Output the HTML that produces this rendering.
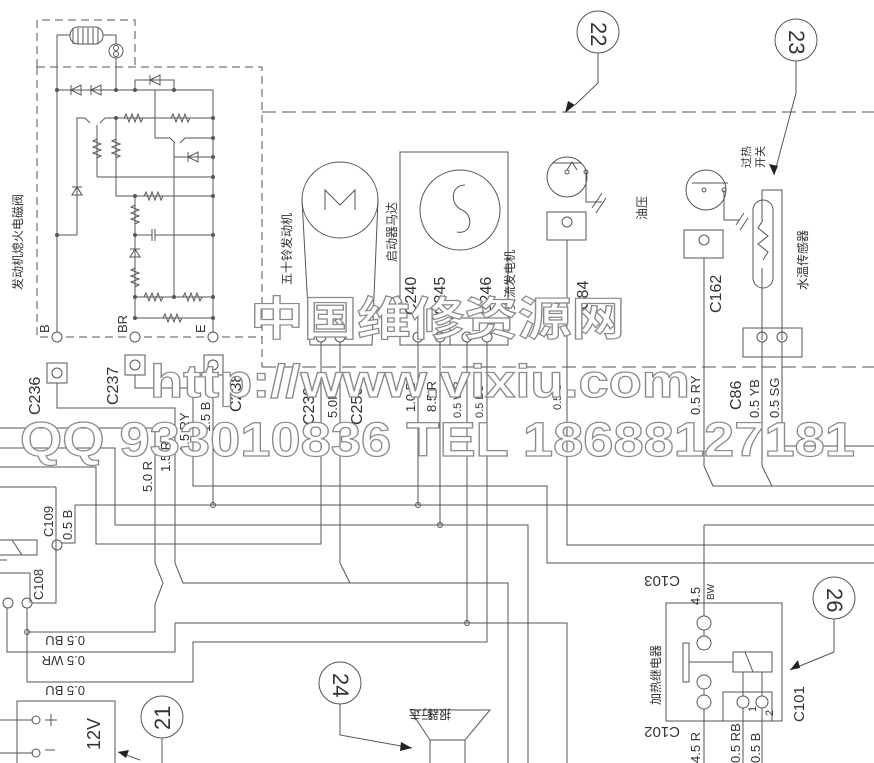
<!DOCTYPE html>
<html><head><meta charset="utf-8"><style>
html,body{margin:0;padding:0;background:#fff;}
svg{display:block;}
text{font-family:"Liberation Sans","Noto Sans CJK SC",sans-serif;fill:#333;}
</style></head><body>
<svg width="874" height="763" viewBox="0 0 874 763" xmlns="http://www.w3.org/2000/svg">
<g fill="none" stroke="#555" stroke-width="1">
<path d="M37 67 V20 H135 V67" stroke-dasharray="8 5"/>
<path d="M37 67 H262 V367 M37 67 V337 H262" stroke-dasharray="8 5"/>
<path d="M262 112 H874" stroke-dasharray="14 6"/>
<path d="M262 367 H874" stroke-dasharray="14 6"/>
<path d="M57 35 V337 M57 35 H70 M103 35 H116 V44 M116 58 V90"/>
<rect x="70" y="27" width="33" height="17" rx="8"/>
<path d="M73 28 v16 M78 28 v16 M83 28 v16 M88 28 v16 M93 28 v16 M98 28 v16"/>
<circle cx="116" cy="51" r="7"/>
<circle cx="116" cy="48" r="2.5"/><circle cx="116" cy="54" r="2.5"/>
<path d="M57 90 H213 V337"/>
<path d="M71 85 v10 M71 90 l10 -5 v10 z M91 85 v10 M91 90 l10 -5 v10 z"/>
<path d="M135 90 V80 H174 V90 M150 80 l10 -5 v10 z M150 75 v10"/>
<path d="M77 235 V118 H85 l5 5 M100 123 l5 -5 H213 M155 90 V138 H170 l5 5 M180 143 l5 -5 H213"/>
<path d="M124 118 l2 -4 l3 8 l3 -8 l3 8 l3 -8 l3 8 l2 -4 M171 118 l2 -4 l3 8 l3 -8 l3 8 l3 -8 l3 8 l2 -4"/>
<path d="M97 125 V177 M116 118 V196 H213 M97 177 H213 M174 143 V297"/>
<path d="M97 139 l-4 2 l8 3 l-8 3 l8 3 l-8 3 l8 3 l-4 2 M116 139 l-4 2 l8 3 l-8 3 l8 3 l-8 3 l8 3 l-4 2"/>
<path d="M174 157 H213 M188 157 l10 -5 v10 z M188 152 v10"/>
<path d="M57 235 H77 M72 195 h10 l-5 -8 z M72 187 h10"/>
<path d="M135 196 V318 M135 235 H152 M155 235 H213 M152 229 v12 M155 229 v12"/>
<path d="M144 196 l2 -4 l3 8 l3 -8 l3 8 l3 -8 l3 8 l2 -4"/>
<path d="M135 205 l-4 2 l8 3 l-8 3 l8 3 l-8 3 l8 3 l-4 2 M135 268 l-4 2 l8 3 l-8 3 l8 3 l-8 3 l8 3 l-4 2"/>
<path d="M130 257 h10 l-5 -8 z M130 249 h10"/>
<path d="M135 297 H213 M135 318 H213"/>
<path d="M144 297 l2 -4 l3 8 l3 -8 l3 8 l3 -8 l3 8 l2 -4 M183 297 l2 -4 l3 8 l3 -8 l3 8 l3 -8 l3 8 l2 -4 M163 318 l2 -4 l3 8 l3 -8 l3 8 l3 -8 l3 8 l2 -4"/>
<circle cx="57" cy="337" r="5" fill="#fff"/><circle cx="135" cy="337" r="5" fill="#fff"/><circle cx="213" cy="337" r="5" fill="#fff"/>
<rect x="47" y="363" width="20" height="20"/><circle cx="57" cy="373" r="5"/>
<rect x="125" y="355" width="20" height="20"/><circle cx="135" cy="365" r="5"/>
<rect x="204" y="355" width="19" height="20"/><circle cx="213" cy="365" r="5"/>
<circle cx="340" cy="200" r="38"/>
<path d="M302 200 L310 345 H372 L378 200"/>
<path d="M325 210 V190 L340 205 L355 190 V210"/>
<circle cx="321" cy="337" r="5"/><circle cx="340" cy="337" r="5"/>
<rect x="400" y="152" width="108" height="193"/>
<circle cx="460" cy="210" r="40"/>
<path d="M465 185 c-15 0 -15 20 -3 25 c12 5 10 25 -5 22"/>
<rect x="450" y="318" width="58" height="27"/>
<circle cx="418" cy="337" r="5"/><circle cx="440" cy="337" r="5"/><circle cx="467" cy="337" r="5"/><circle cx="487" cy="337" r="5"/>
<circle cx="567" cy="177" r="20"/><path d="M553 163 H581 M567 170 l5 -8 l5 8"/>
<circle cx="567" cy="172" r="2"/><circle cx="586" cy="172" r="2"/>
<path d="M586 172 V202 H602 M592 208 l10 -15 M596 213 l10 -15"/>
<rect x="547" y="212" width="39" height="28"/><circle cx="567" cy="222" r="5"/>
<circle cx="706" cy="190" r="20"/><path d="M692 183 H728"/>
<circle cx="704" cy="190" r="2"/><circle cx="724" cy="190" r="2"/>
<path d="M724 190 V220 H740 M736 225 l8 -12 M740 230 l8 -12"/>
<rect x="684" y="230" width="39" height="28"/><circle cx="704" cy="240" r="5"/>
<rect x="753" y="200" width="20" height="88" rx="10"/>
<path d="M762 190 H782 V340 M762 190 V220 M763 220 l-5 8 l10 8 l-10 8 l10 8 l-5 8 M762 268 V340"/>
<rect x="743" y="328" width="59" height="29"/><circle cx="762" cy="337" r="5"/><circle cx="782" cy="337" r="5"/>
<circle cx="598" cy="32" r="21"/><path d="M598 53 V83 L575 105"/>
<circle cx="796" cy="40" r="21"/><path d="M796 61 V93 L774 175"/>
<circle cx="834" cy="598" r="21"/><path d="M834 619 V652 L790 670"/>
<circle cx="340" cy="683" r="21"/><path d="M340 704 V735 L412 748"/>
<circle cx="162" cy="717" r="21"/><path d="M162 738 V763 M140 760 L118 752"/>
<path d="M57 383 V408 H175 V563 L183 583 H508 V763"/>
<path d="M135 375 V388 H193 V486 H547 V563 H874"/>
<path d="M213 375 V505 M75 505 H874 M75 505 V543 H62"/>
<path d="M321 342 V544 H96 V467 H0"/>
<path d="M340 342 V563 L350 583"/>
<path d="M418 342 V505 M440 342 V525 M115 525 H528 V763 M115 525 V448 H0"/>
<path d="M467 342 V623 M487 342 V642 H193 V682 H27 V608"/>
<path d="M567 240 V545 H874"/>
<path d="M155 428 H0 M155 428 V563 L163 583 L155 604 V632 H27"/>
<path d="M175 623 H567 V763 M175 623 V652 H7 V608"/>
<path d="M56 487 H0 M56 487 V603 H32"/>
<path d="M704 258 V466 L713 486 H874 M762 342 V466 L772 486 M782 342 V446 H874"/>
<path d="M704 525 H874 M704 525 V616"/>
<path d="M0 540 H37 V555 H0 M12 540 l10 15 M0 573 H30 V603 M0 560 H7"/>
<circle cx="57" cy="545" r="5"/><circle cx="8" cy="603" r="5"/><circle cx="27" cy="603" r="5"/>
<rect x="666" y="603" width="116" height="118"/>
<circle cx="704" cy="623" r="7"/><circle cx="704" cy="643" r="7"/><circle cx="704" cy="682" r="7"/><circle cx="704" cy="702" r="7"/>
<path d="M704 630 V636 M704 689 V695 M704 709 V763"/>
<rect x="683" y="643" width="6" height="39"/><path d="M689 662 H733"/>
<rect x="733" y="652" width="39" height="20"/><path d="M745 652 l8 20"/>
<rect x="723" y="692" width="49" height="29"/>
<circle cx="743" cy="702" r="6"/><circle cx="762" cy="702" r="6"/>
<path d="M743 672 V696 M762 672 V696 M743 708 V763 M762 708 V763"/>
<path d="M410 710 H490 L465 740 V763 M430 740 V763 M410 710 L430 740 H465"/>
<rect x="17" y="701" width="98" height="65"/>
<path d="M0 720 H33 M0 753 H33"/><circle cx="36" cy="720" r="4"/><circle cx="36" cy="753" r="4"/>
<path d="M45 720 h12 M51 714 v12 M45 750 h10"/>
</g>
<g fill="#555">
<circle cx="57" cy="90" r="2"/><circle cx="116" cy="90" r="2"/><circle cx="135" cy="90" r="2"/><circle cx="174" cy="90" r="2"/>
<circle cx="116" cy="118" r="2"/><circle cx="213" cy="118" r="2"/><circle cx="213" cy="138" r="2"/><circle cx="213" cy="157" r="2"/><circle cx="213" cy="177" r="2"/><circle cx="213" cy="196" r="2"/><circle cx="135" cy="196" r="2"/><circle cx="57" cy="235" r="2"/><circle cx="135" cy="235" r="2"/><circle cx="213" cy="235" r="2"/><circle cx="135" cy="297" r="2"/><circle cx="174" cy="297" r="2"/><circle cx="213" cy="297" r="2"/><circle cx="135" cy="318" r="2"/><circle cx="213" cy="318" r="2"/>
</g>
<g fill="none" stroke="#555"><circle cx="213" cy="505" r="2.5"/><circle cx="418" cy="505" r="2.5"/><circle cx="440" cy="525" r="2.5"/><circle cx="467" cy="623" r="2.5"/><circle cx="27" cy="632" r="2.5"/></g>
<g fill="#222">
<path d="M575 105 l-10 8 l3 -12 z"/><path d="M774 175 l-5 -11 l9 2 z"/><path d="M790 670 l8 -10 l2 8 z"/><path d="M412 748 l-11 -6 l-1 9 z"/><path d="M118 752 l11 -2 l-3 8 z"/>
</g>
<g font-size="13">
<text transform="rotate(-90 22 290)" x="22" y="290" font-size="12">发动机熄火电磁阀</text>
<text transform="rotate(-90 49 333)" x="49" y="333">B</text>
<text transform="rotate(-90 127 333)" x="127" y="333">BR</text>
<text transform="rotate(-90 205 333)" x="205" y="333">E</text>
<text transform="rotate(-90 40 415)" x="40" y="415" font-size="16">C236</text>
<text transform="rotate(-90 118 405)" x="118" y="405" font-size="16">C237</text>
<text transform="rotate(-90 241 412)" x="241" y="412" font-size="16">C238</text>
<text transform="rotate(-90 291 285)" x="291" y="285" font-size="12">五十铃发动机</text>
<text transform="rotate(-90 396 262)" x="396" y="262" font-size="12">启动器马达</text>
<text transform="rotate(-90 514 310)" x="514" y="310" font-size="12">交流发电机</text>
<text transform="rotate(-90 416 315)" x="416" y="315" font-size="16">C240</text>
<text transform="rotate(-90 445 315)" x="445" y="315" font-size="16">C245</text>
<text transform="rotate(-90 491 315)" x="491" y="315" font-size="16">C246</text>
<text transform="rotate(-90 588 310)" x="588" y="310" font-size="16">C84</text>
<text transform="rotate(-90 721 313)" x="721" y="313" font-size="16">C162</text>
<text transform="rotate(-90 646 220)" x="646" y="220" font-size="12">油压</text>
<text transform="rotate(-90 750 168)" x="750" y="168" font-size="11">过热</text>
<text transform="rotate(-90 764 168)" x="764" y="168" font-size="11">开关</text>
<text transform="rotate(-90 807 290)" x="807" y="290" font-size="12">水温传感器</text>
<text transform="rotate(-90 314 425)" x="314" y="425" font-size="16">C239</text>
<text transform="rotate(-90 337 418)" x="337" y="418">5.0R</text>
<text transform="rotate(-90 362 425)" x="362" y="425" font-size="16">C250</text>
<text transform="rotate(-90 415 412)" x="415" y="412">1.0 B</text>
<text transform="rotate(-90 436 412)" x="436" y="412">8.5 R</text>
<text transform="rotate(-90 461 418)" x="461" y="418" font-size="11">0.5 WR</text>
<text transform="rotate(-90 483 418)" x="483" y="418" font-size="11">0.5 BU</text>
<text transform="rotate(-90 561 410)" x="561" y="410" font-size="11">0.5 G</text>
<text transform="rotate(-90 700 415)" x="700" y="415">0.5 RY</text>
<text transform="rotate(-90 741 410)" x="741" y="410" font-size="16">C86</text>
<text transform="rotate(-90 759 418)" x="759" y="418">0.5 YB</text>
<text transform="rotate(-90 779 418)" x="779" y="418">0.5 SG</text>
<text transform="rotate(-90 152 492)" x="152" y="492">5.0 R</text>
<text transform="rotate(-90 170 472)" x="170" y="472">1.5 R</text>
<text transform="rotate(-90 189 452)" x="189" y="452">1.5 RY</text>
<text transform="rotate(-90 210 432)" x="210" y="432">1.5 B</text>
<text transform="rotate(-90 72 540)" x="72" y="540">0.5 B</text>
<text transform="rotate(-90 53 537)" x="53" y="537">C109</text>
<text transform="rotate(-90 43 600)" x="43" y="600">C108</text>
<text transform="rotate(180 85 636)" x="85" y="636">0.5 BU</text>
<text transform="rotate(180 85 656)" x="85" y="656">0.5 WR</text>
<text transform="rotate(180 85 686)" x="85" y="686">0.5 BU</text>
<text transform="rotate(-90 100 750)" x="100" y="750" font-size="18">12V</text>
<text transform="rotate(180 680 576)" x="680" y="576" font-size="15">C103</text>
<text transform="rotate(-90 700 605)" x="700" y="605">4.5</text>
<text transform="rotate(-90 714 600)" x="714" y="600" font-size="10">BW</text>
<text transform="rotate(-90 660 705)" x="660" y="705" font-size="12">加热继电器</text>
<text transform="rotate(-90 804 722)" x="804" y="722" font-size="15">C101</text>
<text transform="rotate(180 680 727)" x="680" y="727" font-size="15">C102</text>
<text transform="rotate(-90 700 763)" x="700" y="763">4.5 R</text>
<text transform="rotate(-90 740 763)" x="740" y="763">0.5 RB</text>
<text transform="rotate(-90 760 763)" x="760" y="763">0.5 B</text>
<text transform="rotate(-90 756 712)" x="756" y="712" font-size="11">1</text>
<text transform="rotate(-90 773 716)" x="773" y="716" font-size="11">2</text>
<text transform="rotate(180 433 710)" x="433" y="710" font-size="12">行走</text>
<text transform="rotate(180 451 710)" x="451" y="710" font-size="12">报器</text>
</g>
<g font-size="22">
<text transform="rotate(90 591 22)" x="591" y="22">22</text>
<text transform="rotate(90 789 30)" x="789" y="30">23</text>
<text transform="rotate(90 827 588)" x="827" y="588">26</text>
<text transform="rotate(90 333 673)" x="333" y="673">24</text>
<text transform="rotate(-90 170 730)" x="170" y="730">21</text>
</g>
<g fill="#fff" stroke="#8a8a8a" stroke-width="1.2" font-weight="bold">
<text x="250" y="335" font-size="46" font-family="'Noto Sans CJK SC',sans-serif" style="fill:#fff" textLength="375" lengthAdjust="spacingAndGlyphs">中国维修资源网</text>
<text x="150" y="397" font-size="46" style="fill:#fff" textLength="540" lengthAdjust="spacingAndGlyphs">http://www.vixiu.com</text>
<text x="20" y="456" font-size="48" style="fill:#fff" textLength="835" lengthAdjust="spacingAndGlyphs">QQ 933010836 TEL 18688127181</text>
</g>
</svg>
</body></html>
